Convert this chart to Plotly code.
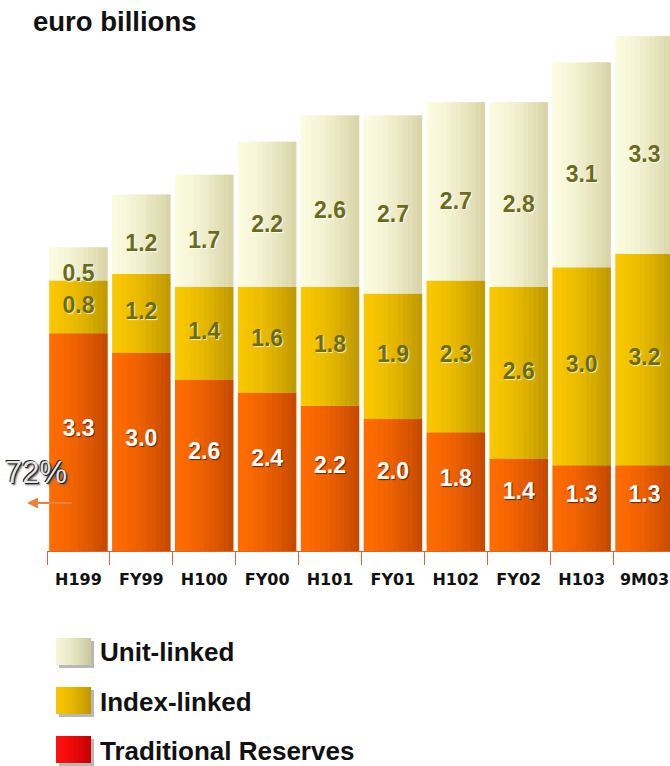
import plotly.graph_objects as go

# ---------------- data ----------------
categories = ["H199", "FY99", "H100", "FY00", "H101", "FY01", "H102", "FY02", "H103", "9M03"]
traditional = [3.3, 3.0, 2.6, 2.4, 2.2, 2.0, 1.8, 1.4, 1.3, 1.3]
index_linked = [0.8, 1.2, 1.4, 1.6, 1.8, 1.9, 2.3, 2.6, 3.0, 3.2]
unit_linked = [0.5, 1.2, 1.7, 2.2, 2.6, 2.7, 2.7, 2.8, 3.1, 3.3]
series_names = ["Unit-linked", "Index-linked", "Traditional Reserves"]
title_text = "euro billions"
share_label = "72%"

# ---------------- geometry ----------------
W, H = 670, 766
L, R, T, B = 47, 0, 20, 215
plot_w = W - L - R
plot_h = H - T - B
SLOT = 62.9          # px per category
PXU = 66.0           # px per euro billion
x_range = [-0.5, -0.5 + plot_w / SLOT]
y_range = [0, plot_h / PXU]
BAR_W = 0.93
N = 12
STEP = BAR_W / N


def hex2rgb(h):
    h = h.lstrip("#")
    return tuple(int(h[i:i + 2], 16) for i in (0, 2, 4))


def mix(c1, c2, t):
    a, b = hex2rgb(c1), hex2rgb(c2)
    return "rgb(%d,%d,%d)" % tuple(round(a[i] + (b[i] - a[i]) * t) for i in range(3))


def px_x(px):
    return (px - L) / plot_w


def px_y(py):
    return (H - B - py) / plot_h


fig = go.Figure()

base_trad = [0.0] * len(categories)
base_index = [t for t in traditional]
base_unit = [t + i for t, i in zip(traditional, index_linked)]

layers = [
    (traditional, base_trad, "#ff6c00", "#c44800"),
    (index_linked, base_index, "#fac800", "#bd9800"),
    (unit_linked, base_unit, "#fbfbe0", "#d7d3a4"),
]

for vals, base, c_left, c_right in layers:
    for k in range(N):
        t = (k + 0.5) / N
        off = -BAR_W / 2 + k * STEP
        wid = STEP * 1.8 if k < N - 1 else STEP
        wid = min(wid, BAR_W / 2 - off)
        fig.add_trace(go.Bar(
            x=categories, y=vals, base=base,
            width=wid, offset=off,
            marker=dict(color=mix(c_left, c_right, t ** 1.5), line=dict(width=0)),
            hoverinfo="skip", showlegend=False,
        ))

label_font = dict(family="Liberation Sans", size=23, weight="bold")
olive = "#6b6b1c"

fig.add_trace(go.Scatter(
    x=categories, y=[b + v / 2 for b, v in zip(base_trad, traditional)],
    mode="text", text=["%.1f" % v for v in traditional], textposition="top center",
    textfont=dict(label_font, color="white", shadow="1px 1px 1px #5a2400"),
    hoverinfo="skip", showlegend=False, cliponaxis=False,
))
fig.add_trace(go.Scatter(
    x=categories, y=[b + v / 2 for b, v in zip(base_index, index_linked)],
    mode="text", text=["%.1f" % v for v in index_linked], textposition="middle center",
    textfont=dict(label_font, color=olive, shadow="1px 1px 1px #fff2a0"),
    hoverinfo="skip", showlegend=False, cliponaxis=False,
))
fig.add_trace(go.Scatter(
    x=categories, y=[b + v / 2 for b, v in zip(base_unit, unit_linked)],
    mode="text", text=["%.1f" % v for v in unit_linked], textposition="bottom center",
    textfont=dict(label_font, color=olive, shadow="1px 1px 1px #ffffff"),
    hoverinfo="skip", showlegend=False, cliponaxis=False,
))

# ---------------- custom legend ----------------
shapes = []
annotations = []
legend_items = [
    (series_names[0], 638, "#f4f4d6", "#c9c79c"),
    (series_names[1], 687, "#f7c400", "#c09600"),
    (series_names[2], 736, "#ff1010", "#c40000"),
]
SW_X0, SW_X1, SW_H = 56, 91, 27
for name, y0, c1, c2 in legend_items:
    shapes.append(dict(type="rect", xref="paper", yref="paper",
                       x0=px_x(SW_X0 + 3), x1=px_x(SW_X1 + 3),
                       y0=px_y(y0 + 3), y1=px_y(y0 + SW_H + 3),
                       fillcolor="#b8b8b8", line=dict(width=0), layer="above"))
    for k in range(N):
        t = (k + 0.5) / N
        xa = SW_X0 + (SW_X1 - SW_X0) * k / N
        xb = SW_X0 + (SW_X1 - SW_X0) * (k + 1) / N
        shapes.append(dict(type="rect", xref="paper", yref="paper",
                           x0=px_x(xa), x1=px_x(min(xb + 1.5, SW_X1)),
                           y0=px_y(y0), y1=px_y(y0 + SW_H),
                           fillcolor=mix(c1, c2, t ** 1.5), line=dict(width=0), layer="above"))
    annotations.append(dict(text=name, xref="paper", yref="paper",
                            x=px_x(99), y=px_y(y0 + SW_H / 2 + 1),
                            xanchor="left", yanchor="middle", showarrow=False, borderpad=0,
                            font=dict(family="Liberation Sans", size=26, weight="bold", color="#111111")))

# 72% marker with arrow
annotations.append(dict(text=share_label, xref="paper", yref="paper",
                        x=px_x(36), y=px_y(472), xanchor="center", yanchor="middle",
                        showarrow=False,
                        font=dict(family="Liberation Sans", size=31, color="#e4e4e4",
                                  shadow="-1px -1px 0 #222, 1px 1px 0 #222, 2px 2px 2px #666")))
annotations.append(dict(text="", xref="paper", yref="paper",
                        x=px_x(27), y=px_y(503), ax=46, ay=0,
                        showarrow=True, arrowhead=2, arrowsize=1, arrowwidth=2.2,
                        arrowcolor="#e4843c"))

fig.update_layout(
    width=W, height=H,
    margin=dict(l=L, r=R, t=T, b=B, pad=0),
    barmode="overlay",
    plot_bgcolor="white", paper_bgcolor="white",
    showlegend=False,
    title=dict(text=title_text, x=33 / W, xref="container", xanchor="left",
               y=1 - 21 / H, yref="container", yanchor="middle",
               font=dict(family="Liberation Sans", size=27.5, weight="bold", color="#111111")),
    shapes=shapes,
    annotations=annotations,
    xaxis=dict(type="category", categoryorder="array", categoryarray=categories,
               range=x_range, showgrid=False, zeroline=False,
               showline=True, linecolor="#e0603a", linewidth=1,
               ticks="outside", tickson="boundaries", ticklen=13,
               tickcolor="#e0603a", tickwidth=1, ticklabelstandoff=14,
               tickfont=dict(family="DejaVu Sans", size=16, weight="bold", color="#111111"),
               fixedrange=True),
    yaxis=dict(range=y_range, visible=False, fixedrange=True),
)

fig.write_html("out.html")
